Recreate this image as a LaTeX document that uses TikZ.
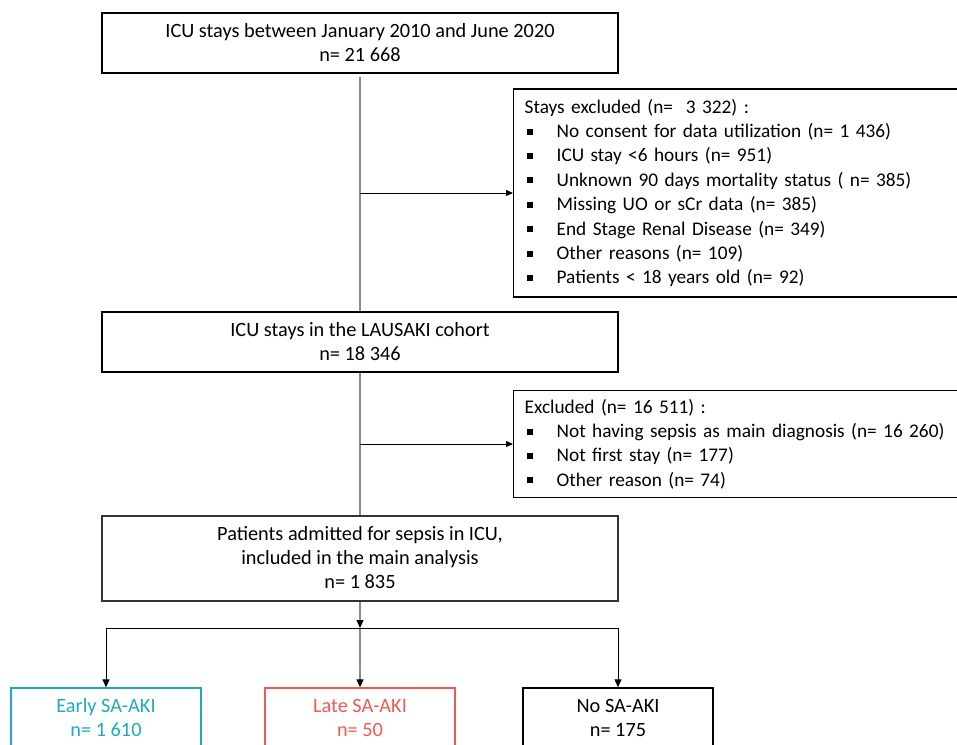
\documentclass[tikz,border=0pt]{standalone}
\usepackage{fontspec}
\setmainfont{Carlito}
\usetikzlibrary{arrows.meta}

\definecolor{earlycol}{RGB}{30,170,190}
\definecolor{latecol}{RGB}{240,90,80}
\newcommand\blt{\makebox[32pt][l]{\hspace{2.5pt}\rule[3pt]{6pt}{6pt}}}
\def\stagewidth{516pt}

\begin{document}
\begin{tikzpicture}[x=1pt,y=-1pt,font=\fontsize{20.3}{24}\selectfont]
      \tikzstyle{stage}=[draw=black, line width=1.3pt, minimum width=\stagewidth, align=center, inner sep=0pt]
      \tikzstyle{excl}=[draw=black, line width=1.3pt, text width=450pt, inner xsep=11pt, align=left, anchor=west,
                        font=\fontsize{19.3}{24.4}\selectfont]
      \tikzstyle{group}=[draw=black, line width=1.3pt, minimum width=190pt, minimum height=60pt, align=center]
      \tikzstyle{flow}=[draw=black!45, line width=1.2pt]
      \tikzstyle{flow arrow}=[flow, -{Triangle[length=8pt,width=7pt,color=black]}]
      \tikzstyle{side arrow}=[draw=black, line width=1pt, -{Triangle[length=7pt,width=6pt]}]

      \useasboundingbox (0,0) rectangle (957,744);
      \clip (0,0) rectangle (957,744);

      % Draw the main stages
      \node[stage, minimum height=60pt] (start) at (360,43)
          {ICU stays between January 2010 and June 2020\\ n= 21 668};
      \node[stage, minimum height=60pt] (cohort) at (360,342)
          {ICU stays in the LAUSAKI cohort\\ n= 18 346};
      \node[stage, minimum height=85pt, draw=black!80, line width=2pt] (sepsis) at (360,558)
          {Patients admitted for sepsis in ICU,\\ included in the main analysis\\ n= 1 835};

      % Draw the exclusion boxes
      \node[excl, minimum height=208pt] (excla) at (513,193)
          {Stays excluded (n=\ \ 3 322) :\\
           \blt No consent for data utilization (n= 1 436)\\
           \blt ICU stay <6 hours (n= 951)\\
           \blt Unknown 90 days mortality status ( n= 385)\\
           \blt Missing UO or sCr data (n= 385)\\
           \blt End Stage Renal Disease (n= 349)\\
           \blt Other reasons (n= 109)\\
           \blt Patients < 18 years old (n= 92)};
      \node[excl, minimum height=107pt] (exclb) at (513,444)
          {Excluded (n= 16 511) :\\
           \blt Not having sepsis as main diagnosis (n= 16 260)\\
           \blt Not first stay (n= 177)\\
           \blt Other reason (n= 74)};

      % Draw the SA-AKI groups
      \node[group, draw=earlycol, text=earlycol] (early) at (106,718) {Early SA-AKI\\ n= 1 610};
      \node[group, draw=latecol, text=latecol] (late) at (360,718) {Late SA-AKI\\ n= 50};
      \node[group] (nosaki) at (618,718) {No SA-AKI\\ n= 175};

      % Main flow and exclusions
      \coordinate (ja) at (start.south |- excla.west);
      \coordinate (jb) at (cohort.south |- exclb.west);
      \draw[flow] ([yshift=-3pt]start.south) -- (cohort.north);
      \draw[flow] (cohort.south) -- (sepsis.north);
      \draw[side arrow] (ja) -- (excla.west);
      \draw[side arrow] (jb) -- (exclb.west);

      % Split into the three groups
      \coordinate (split) at (360,628);
      \draw[flow arrow] (sepsis.south) -- (split);
      \draw[flow arrow] (split) -- (late.north);
      \draw[line width=1pt] (early.north |- split) -- (nosaki.north |- split);
      \foreach \dest in {early, nosaki}
          \draw[side arrow, -{Triangle[length=8pt,width=7pt]}] (\dest.north |- split) -- (\dest.north);
\end{tikzpicture}
\end{document}
